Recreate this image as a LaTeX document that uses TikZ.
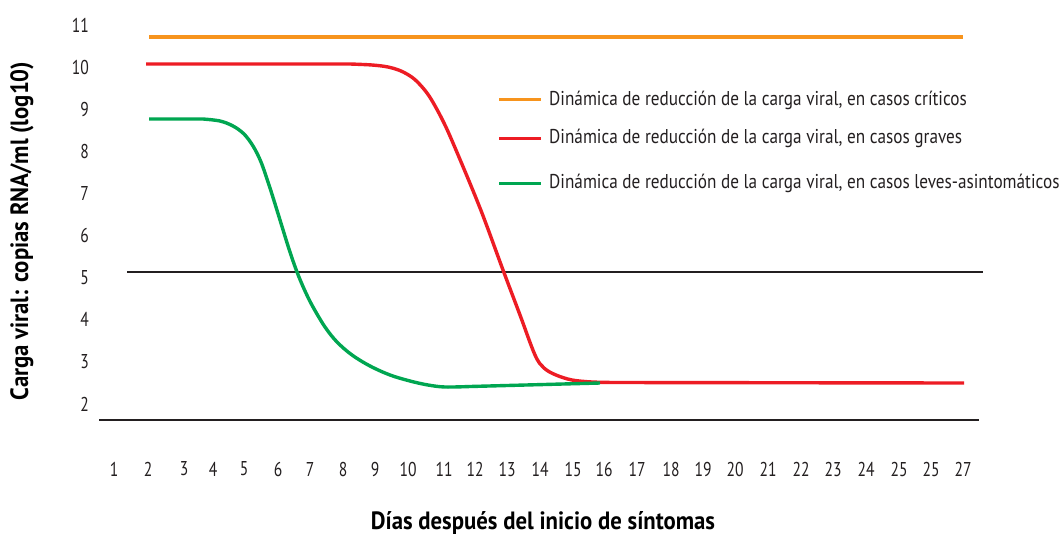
\documentclass[tikz,border=0pt]{standalone}
\usepackage{fontspec}
\setmainfont{PT Sans}
\newfontfamily\condfont[FakeStretch=0.78]{PT Sans}
\newfontfamily\legfont[FakeStretch=0.86]{PT Sans}
\newfontfamily\condbold[FakeStretch=0.91]{PT Sans Bold}
\definecolor{critcol}{HTML}{F7941D}
\definecolor{gravcol}{HTML}{ED1C24}
\definecolor{levecol}{HTML}{00A651}
\definecolor{axcol}{HTML}{231F20}
\tikzset{
  ticklab/.style={font=\condfont\fontsize{20}{22}\selectfont, text=axcol, inner sep=0pt},
  leglab/.style={font=\legfont\fontsize{20}{22}\selectfont, text=axcol, inner sep=0pt, anchor=west},
  titlelab/.style={font=\condbold\fontsize{25}{28}\selectfont, text=black, inner sep=0pt},
  axline/.style={draw=axcol, line width=1.3pt},
  curve/.style={line width=3.4pt, line join=round, line cap=butt},
}
\begin{document}
\begin{tikzpicture}[x=1pt,y=-1pt]
\useasboundingbox[fill=white] (0,0) rectangle (1062,536);

% y tick labels
\foreach \v in {2,...,11} {
  \node[ticklab, anchor=east] (y\v) at (89,{25+(11-\v)*42.1}) {\v};
}
% x tick labels
\foreach \lab/\xx [count=\i] in {1/114,2/148,3/184,4/213,5/244,6/278,7/310,8/343,9/375,10/408,11/444,12/475,13/507,14/540,15/573,16/604,17/637,18/671,19/703,20/735,21/768,22/801,23/833,24/866,25/899,25/931,27/963} {
  \node[ticklab] (x\i) at (\xx,469) {\lab};
}

% axis lines
\coordinate (axL) at (99,420);
\coordinate (axR) at (979,420);
\coordinate (thL) at (127,272);
\coordinate (thR) at (983,272);
\draw[axline] (axL) -- (axR);
\draw[axline] (thL) -- (thR);

% critical (orange)
\coordinate (oS) at (149,37);
\coordinate (oE) at (963,37);
\draw[curve, critcol, line width=3.2pt] (oS) -- (oE);

% severe (red)
\coordinate (rS) at (146,64);
\coordinate (rE) at (964,383);
\draw[curve, gravcol] (rS) -- plot[smooth, tension=0.55] coordinates {
  (350,64) (372,65) (388,67) (401,71) (413,78) (423,88) (431,99) (442,119) (453,143) (480,208) (503,270) (520,315) (535,355) (544,368) (556,375) (572,380) (592,382) (615,382.5)} -- (rE);

% mild (green)
\coordinate (gS) at (149,119);
\draw[curve, levecol] (gS) -- plot[smooth, tension=0.55] coordinates {
  (203,119) (220,121) (233,126) (244,134) (253,146) (261,162) (270,188) (280,220) (289,249) (297,272) (305,291) (313,307) (325,327) (337,342) (352,355) (370,366) (390,375) (410,381) (428,385) (445,387) (470,386.5)} -- (600,383);

% legend
\coordinate (l1a) at (499,99.5);
\coordinate (l1b) at (541,99.5);
\coordinate (l2a) at (499,138.5);
\coordinate (l2b) at (541,138.5);
\coordinate (l3a) at (499,183.5);
\coordinate (l3b) at (541,183.5);
\draw[critcol, line width=3pt] (l1a) -- (l1b);
\draw[gravcol, line width=3pt] (l2a) -- (l2b);
\draw[levecol, line width=3pt] (l3a) -- (l3b);
\node[leglab] (t1) at (549,100) {Dinámica de reducción de la carga viral, en casos críticos};
\node[leglab] (t2) at (549,138) {Dinámica de reducción de la carga viral, en casos graves};
\node[leglab] (t3) at (549,183) {Dinámica de reducción de la carga viral, en casos leves-asintomáticos};

% axis titles
\node[titlelab, rotate=90] (ytitle) at (22,231) {Carga viral: copias RNA/ml (log10)};
\node[titlelab] (xtitle) at (543,523) {Días después del inicio de síntomas};
\end{tikzpicture}
\end{document}
